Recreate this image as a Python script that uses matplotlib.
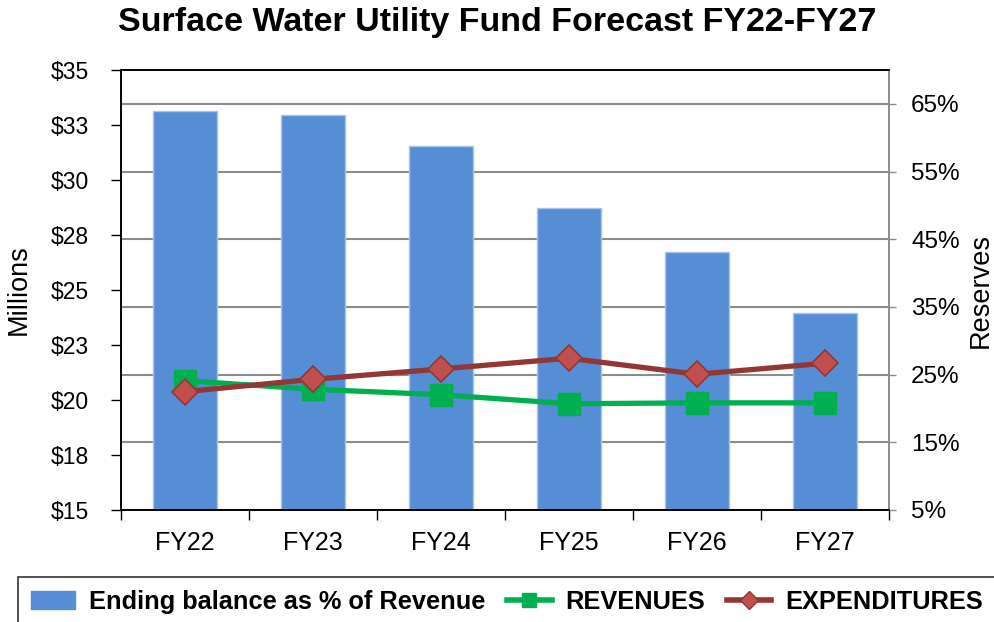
import matplotlib.pyplot as plt
import numpy as np
from matplotlib.lines import Line2D
from matplotlib.patches import Patch

plt.rcParams['font.family'] = ['Liberation Sans', 'DejaVu Sans']

years = ["FY22", "FY23", "FY24", "FY25", "FY26", "FY27"]
balance_pct = [64.0, 63.4, 58.7, 49.6, 43.1, 34.1]
revenues = [20.88, 20.49, 20.24, 19.83, 19.87, 19.87]
expenditures = [20.38, 20.94, 21.41, 21.90, 21.17, 21.67]

left_ticks = [15, 17.5, 20, 22.5, 25, 27.5, 30, 32.5, 35]
left_labels = ["$15", "$18", "$20", "$23", "$25", "$28", "$30", "$33", "$35"]
right_ticks = [5, 15, 25, 35, 45, 55, 65]
right_labels = ["5%", "15%", "25%", "35%", "45%", "55%", "65%"]

bar_color = "#558ED5"
green = "#00B050"
red_line = "#943634"
red_face = "#C0504D"

fig = plt.figure(figsize=(9.94, 6.22), dpi=100)
ax = fig.add_axes([121 / 994, 1 - 510 / 622, 768 / 994, 440 / 622])
ax2 = ax.twinx()

x = np.arange(len(years))

# bars on the reserves (right) scale, drawn on the base axes
ax.bar(x, balance_pct, width=0.5, color=bar_color, edgecolor="#A9C4EB",
       linewidth=1, zorder=2)
ax.set_ylim(5, 70)
ax.set_yticks(right_ticks)
ax.set_yticklabels(right_labels)
ax.yaxis.tick_right()
ax.yaxis.set_label_position("right")
ax.set_ylabel("Reserves", fontsize=19.5, labelpad=6)
ax.grid(axis="y", color="#8C8C8C", linewidth=1.5, zorder=0)
ax.set_axisbelow(True)
ax.tick_params(axis="y", direction="out", length=5, width=1, color="#8C8C8C",
               pad=11, labelsize=17.5)

ax.set_xlim(-0.5, len(years) - 0.5)
ax.set_xticks(np.arange(-0.5, len(years)), minor=False)
ax.set_xticklabels([])
ax.set_xticks(x, minor=True)
ax.set_xticklabels(years, minor=True)
ax.tick_params(axis="x", which="major", direction="out", length=7, width=1)
ax.tick_params(axis="x", which="minor", length=0, pad=15, labelsize=18)

# lines on the millions (left) scale
ax2.plot(x, revenues, color=green, linewidth=3.8, marker="s", markersize=16,
         markerfacecolor=green, markeredgecolor=green, zorder=3)
ax2.plot(x, expenditures, color=red_line, linewidth=3.8, marker="D",
         markersize=13, markerfacecolor=red_face, markeredgecolor=red_line,
         markeredgewidth=1.2, zorder=4)
ax2.set_ylim(15, 35)
ax2.set_yticks(left_ticks)
ax2.set_yticklabels(left_labels)
ax2.yaxis.tick_left()
ax2.yaxis.set_label_position("left")
ax2.set_ylabel("Millions", fontsize=19.5, labelpad=14)
ax2.tick_params(axis="y", direction="out", length=7, width=1, pad=16,
                labelsize=16.5)

for a in (ax, ax2):
    a.spines["left"].set_color("black")
    a.spines["top"].set_color("black")
    a.spines["bottom"].set_color("black")
    a.spines["right"].set_color("#8C8C8C")
    for s in a.spines.values():
        s.set_linewidth(1.2)

fig.text(0.5, 1 - 22 / 622, "Surface Water Utility Fund Forecast FY22-FY27",
         ha="center", va="center", fontsize=24.5, fontweight="bold")

handles = [
    Patch(facecolor=bar_color, edgecolor=bar_color),
    Line2D([], [], color=green, linewidth=4, marker="s", markersize=10,
           markerfacecolor=green, markeredgecolor=green),
    Line2D([], [], color=red_line, linewidth=4, marker="D", markersize=9,
           markerfacecolor=red_face, markeredgecolor=red_line),
]
labels = ["Ending balance as % of Revenue", "REVENUES", "EXPENDITURES"]
leg = fig.legend(handles, labels, loc="upper left", ncol=3,
                 bbox_to_anchor=(18 / 994, 1 - 577 / 622), borderaxespad=0,
                 prop={"size": 18.3, "weight": "bold"}, frameon=True,
                 fancybox=False, edgecolor="black", handlelength=1.75,
                 handletextpad=0.55, columnspacing=0.85, borderpad=0.5)
leg.get_frame().set_linewidth(1.2)

fig.savefig("out.png", dpi=100)
